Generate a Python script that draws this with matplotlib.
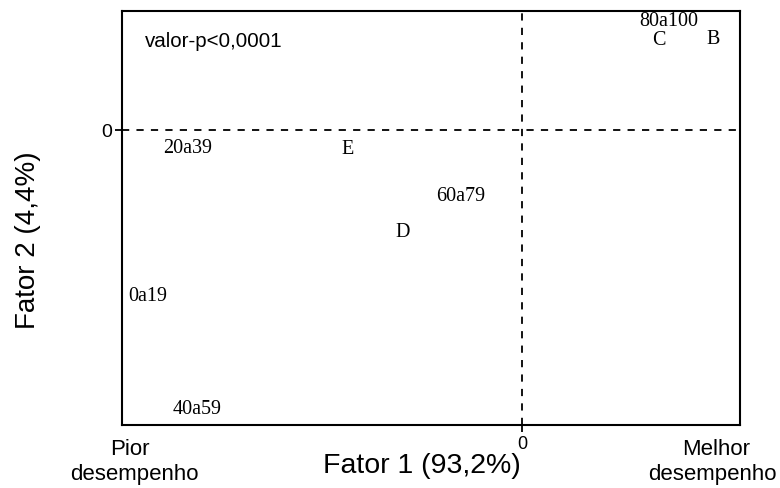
import matplotlib
matplotlib.use("Agg")
import matplotlib.pyplot as plt

# Coordinates of row/column categories on the two factors
labels = ["80a100", "C", "B", "20a39", "E", "60a79", "D", "0a19", "40a59"]
fator1 = [0.735, 0.685, 0.955, -1.67, -0.87, -0.305, -0.595, -1.87, -1.625]
fator2 = [0.92, 0.76, 0.77, -0.15, -0.16, -0.55, -0.85, -1.39, -2.34]

fig = plt.figure(figsize=(7.8, 4.89), dpi=100)
ax = fig.add_axes([0.1564, 0.1288, 0.7923, 0.8467])
ax.set_xlim(-2.0, 1.09)
ax.set_ylim(-2.48, 1.0)

for lab, x, y in zip(labels, fator1, fator2):
    ax.text(x, y, lab, ha="center", va="center", fontsize=14.5,
            family="Liberation Serif")

ax.axhline(0, color="black", ls=(0, (4, 4)), lw=1.3)
ax.axvline(0, color="black", ls=(0, (4, 4)), lw=1.3)

ax.set_xticks([0])
ax.set_yticks([0])
ax.set_xticklabels(["0"], family="Liberation Sans", fontsize=13)
ax.set_yticklabels(["0"], family="Liberation Sans", fontsize=14)
ax.tick_params(direction="out", length=5, width=1.3, pad=2)
for s in ax.spines.values():
    s.set_linewidth(1.5)

ax.text(-1.885, 0.75, "valor-p<0,0001", ha="left", va="center",
        fontsize=14.8, family="Liberation Sans")

fig.text(422 / 780, 1 - 466 / 489, "Fator 1 (93,2%)", ha="center", va="center",
         fontsize=20.5, family="Liberation Sans")
fig.text(28 / 780, 1 - 240 / 489, "Fator 2 (4,4%)", ha="center", va="center",
         rotation=90, fontsize=20, family="Liberation Sans")
fig.text(130 / 780, 1 - 450 / 489, "Pior", ha="center", va="center",
         fontsize=16, family="Liberation Sans")
fig.text(134 / 780, 1 - 475 / 489, "desempenho", ha="center", va="center",
         fontsize=16, family="Liberation Sans")
fig.text(716 / 780, 1 - 450 / 489, "Melhor", ha="center", va="center",
         fontsize=16, family="Liberation Sans")
fig.text(712 / 780, 1 - 475 / 489, "desempenho", ha="center", va="center",
         fontsize=16, family="Liberation Sans")

fig.savefig("out.png", dpi=100)
